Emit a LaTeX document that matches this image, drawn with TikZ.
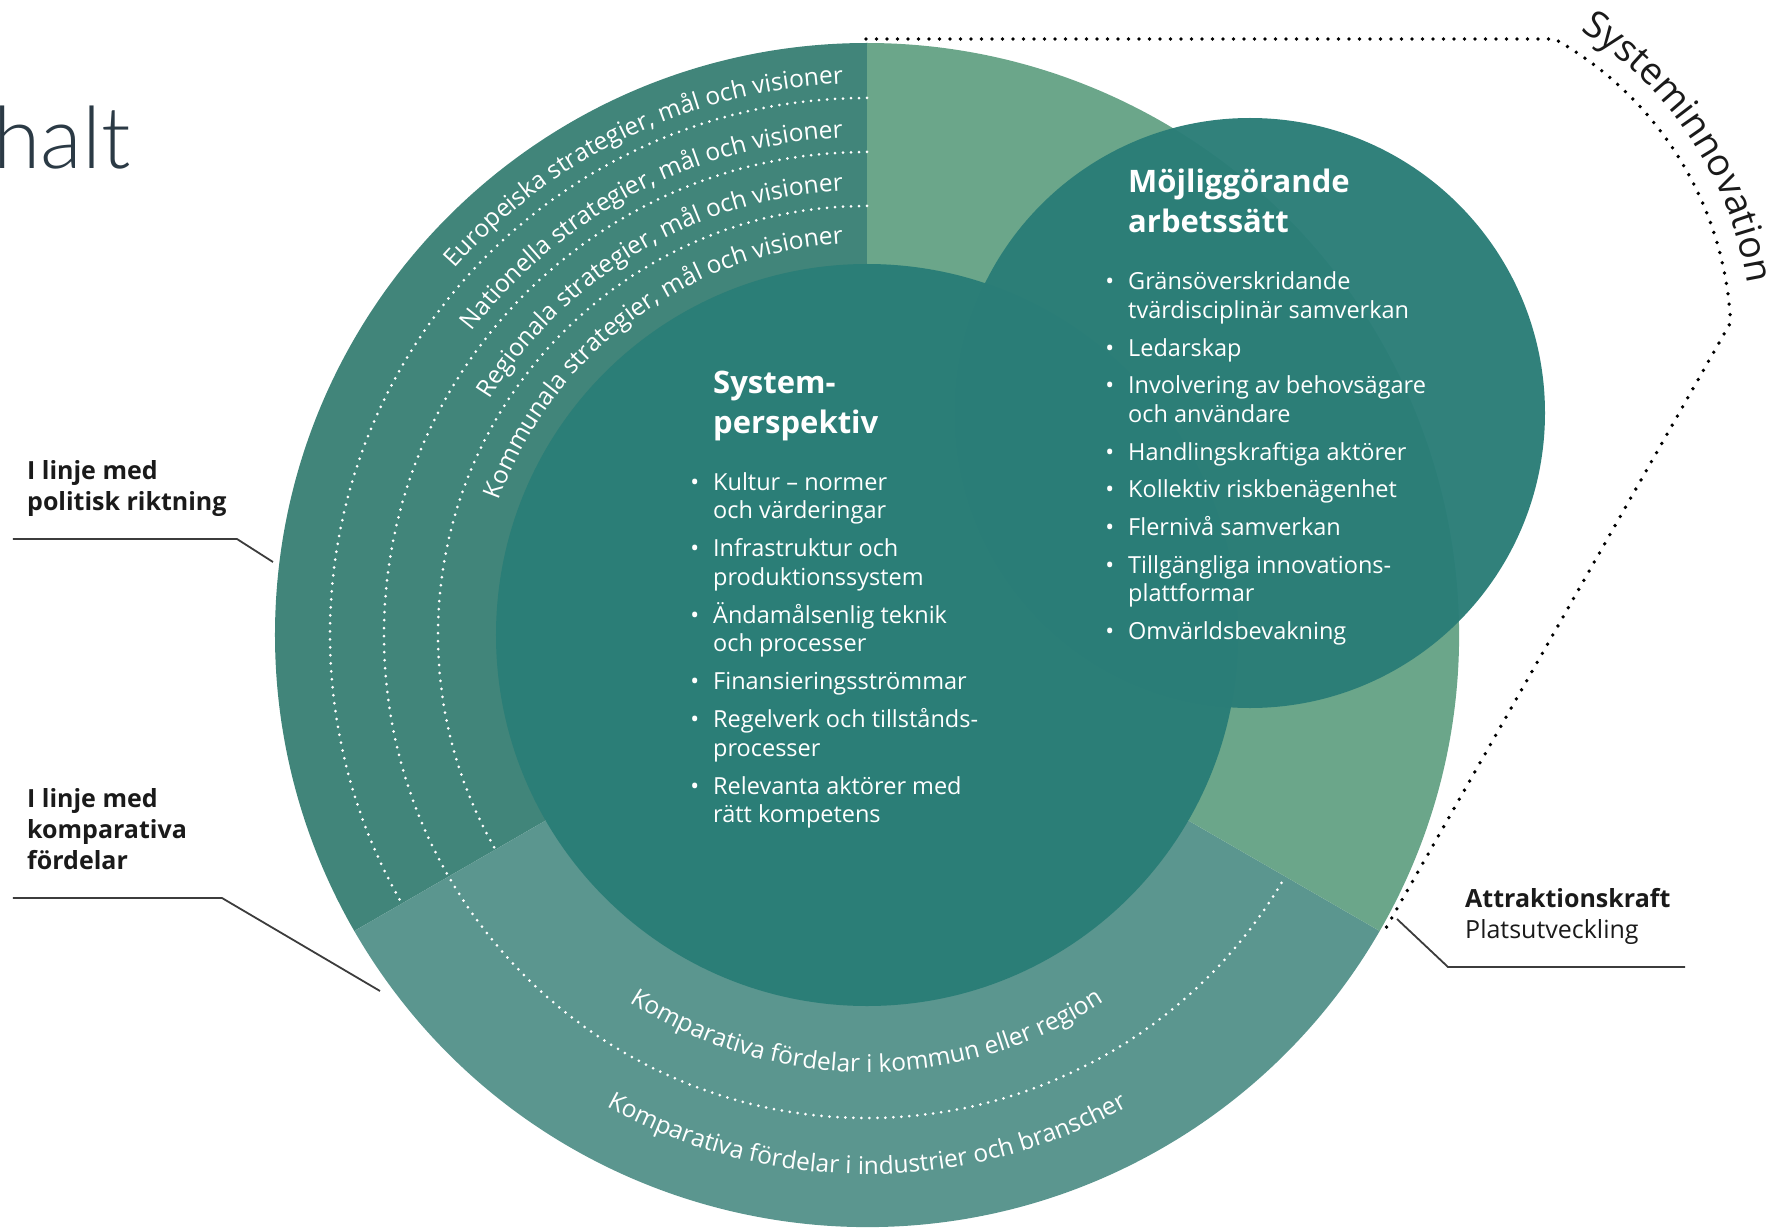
\documentclass[tikz,border=0pt]{standalone}
\usepackage{fontspec}
\setmainfont{Open Sans}
\IfFontExistsTF{Lato Light}{\newfontfamily\halfont{Lato Light}}{\newfontfamily\halfont{Lato}}
\usetikzlibrary{decorations.text,calc}
\definecolor{ringL}{HTML}{41857A}
\definecolor{ringG}{HTML}{6BA68A}
\definecolor{ringB}{HTML}{5B968F}
\definecolor{core}{HTML}{2B7E77}
\definecolor{mcore}{HTML}{2A7D77}
\definecolor{ink}{HTML}{1A1A1A}
\definecolor{leader}{HTML}{3C3C3C}
\definecolor{slate}{HTML}{2B3A45}
\newcommand\arcfont{\fontsize{24.5}{24.5}\selectfont\color{white}}
\begin{document}
\begin{tikzpicture}[x=1pt,y=1pt,
  wdots/.style={white, line width=3pt, line cap=round, dash pattern=on 0pt off 8pt},
  kdots/.style={black, line width=3.8pt, line cap=round, dash pattern=on 0pt off 10.5pt},
  leaderline/.style={leader, line width=1.8pt},
  head/.style={white, font=\fontsize{31}{31}\selectfont\bfseries, anchor=base west, inner sep=0pt},
  li/.style={white, font=\fontsize{23.5}{23.5}\selectfont, anchor=base west, inner sep=0pt},
  lab/.style={ink, font=\fontsize{25}{25}\selectfont\bfseries, anchor=base west, inner sep=0pt},
  labr/.style={ink, font=\fontsize{25}{25}\selectfont, anchor=base west, inner sep=0pt},
]
\useasboundingbox (-867,-592) rectangle (910,635);
\clip (-867,-592) rectangle (910,635);

% title fragment (cut at the left edge)
\node[font=\halfont\fontsize{86}{86}\selectfont, text=slate, anchor=base east, inner sep=0pt] (title) at (-736,466) {halt};

% outer ring sectors
\fill[ringL] (0,0) -- (90:592) arc[start angle=90, end angle=210, radius=592] -- cycle;
\fill[ringB] (0,0) -- (210:592) arc[start angle=210, end angle=330, radius=592] -- cycle;
\fill[ringG] (0,0) -- (-30:592) arc[start angle=-30, end angle=90, radius=592] -- cycle;

% white dotted separators
\draw[wdots] (90:537) arc[start angle=90, end angle=210, radius=537];
\draw[wdots] (90:483) arc[start angle=90, end angle=330, radius=483];
\draw[wdots] (90:429) arc[start angle=90, end angle=210, radius=429];

% inner circles
\fill[core] (0,0) circle[radius=371];
\fill[mcore, fill opacity=0.97] (383,222) circle[radius=295];

% curved ring texts
\path[decorate, decoration={text along path, text align=right, text={|\arcfont|Europeiska strategier, mål och visioner}}]
  (178:552) arc[start angle=178, end angle=92.5, radius=552];
\path[decorate, decoration={text along path, text align=right, text={|\arcfont|Nationella strategier, mål och visioner}}]
  (178:498) arc[start angle=178, end angle=92.8, radius=498];
\path[decorate, decoration={text along path, text align=right, text={|\arcfont|Regionala strategier, mål och visioner}}]
  (178:445) arc[start angle=178, end angle=93.1, radius=445];
\path[decorate, decoration={text along path, text align=right, text={|\arcfont|Kommunala strategier, mål och visioner}}]
  (178:392) arc[start angle=178, end angle=93.5, radius=392];
\path[decorate, decoration={text along path, text align=center, text={|\arcfont|Komparativa fördelar i kommun eller region}}]
  (200:437) arc[start angle=200, end angle=340, radius=437];
\path[decorate, decoration={text along path, text align=center, text={|\arcfont|Komparativa fördelar i industrier och branscher}}]
  (200:539) arc[start angle=200, end angle=340, radius=539];

% Systemperspektiv
\node[head] (sp1) at (-154,242) {System-};
\node[head] (sp2) at (-154,202) {perspektiv};
\foreach \ya/\ba/\ta [count=\i] in {145/1/Kultur – normer, 116.5/0/och värderingar, 78.5/1/Infrastruktur och, 50/0/produktionssystem, 12/1/Ändamålsenlig teknik, -16.5/0/och processer, -54.5/1/Finansieringsströmmar, -92.5/1/Regelverk och tillstånds-, -121/0/processer, -159/1/Relevanta aktörer med, -187.5/0/rätt kompetens}
  \node[li, name=sl\i] at (-154,\ya) {\ifnum\ba=1 \llap{•\hspace{14pt}}\fi\ta};

% Möjliggörande arbetssätt
\node[head] (mh1) at (261,442) {Möjliggörande};
\node[head] (mh2) at (261,402) {arbetssätt};
\foreach \ya/\ba/\ta [count=\i] in {345/1/Gränsöverskridande, 316.5/0/tvärdisciplinär samverkan, 279/1/Ledarskap, 241.5/1/Involvering av behovsägare, 213/0/och användare, 175/1/Handlingskraftiga aktörer, 137.5/1/Kollektiv riskbenägenhet, 100/1/Flernivå samverkan, 62/1/Tillgängliga innovations-, 33.5/0/plattformar, -4.5/1/Omvärldsbevakning}
  \node[li, name=ml\i] at (261,\ya) {\ifnum\ba=1 \llap{•\hspace{14pt}}\fi\ta};

% Systeminnovation bracket
\coordinate (sysC) at (519,294);
\coordinate (topT) at (-1,596);
\coordinate (topK) at (687.6,596);
\coordinate (botT) at (-30:596);
\draw[kdots] (topT) -- (topK) arc[start angle=60.75, end angle=2.9, radius=345] -- (botT);
\path[decorate, decoration={text along path, text align=center, text={|\fontsize{37.5}{37.5}\selectfont\color{ink}|Systeminnovation}}]
  ($(sysC)+(73.5:366)$) arc[start angle=73.5, end angle=-6.5, radius=366];

% side labels
\node[lab] (pol1) at (-840,156) {I linje med};
\node[lab] (pol2) at (-840,125) {politisk riktning};
\coordinate (polA) at (-854,96);
\coordinate (polB) at (-630,96);
\coordinate (polC) at (-594,73);
\draw[leaderline] (polA) -- (polB) -- (polC);

\node[lab] (kom1) at (-840,-172) {I linje med};
\node[lab] (kom2) at (-840,-203) {komparativa};
\node[lab] (kom3) at (-840,-234) {fördelar};
\coordinate (komA) at (-854,-263);
\coordinate (komB) at (-645,-263);
\coordinate (komC) at (-487,-356);
\draw[leaderline] (komA) -- (komB) -- (komC);

\node[lab] (att1) at (598,-272) {Attraktionskraft};
\node[labr] (att2) at (598,-303) {Platsutveckling};
\coordinate (attA) at (530,-284);
\coordinate (attB) at (581,-332);
\coordinate (attC) at (818,-332);
\draw[leaderline] (attA) -- (attB) -- (attC);
\end{tikzpicture}
\end{document}
